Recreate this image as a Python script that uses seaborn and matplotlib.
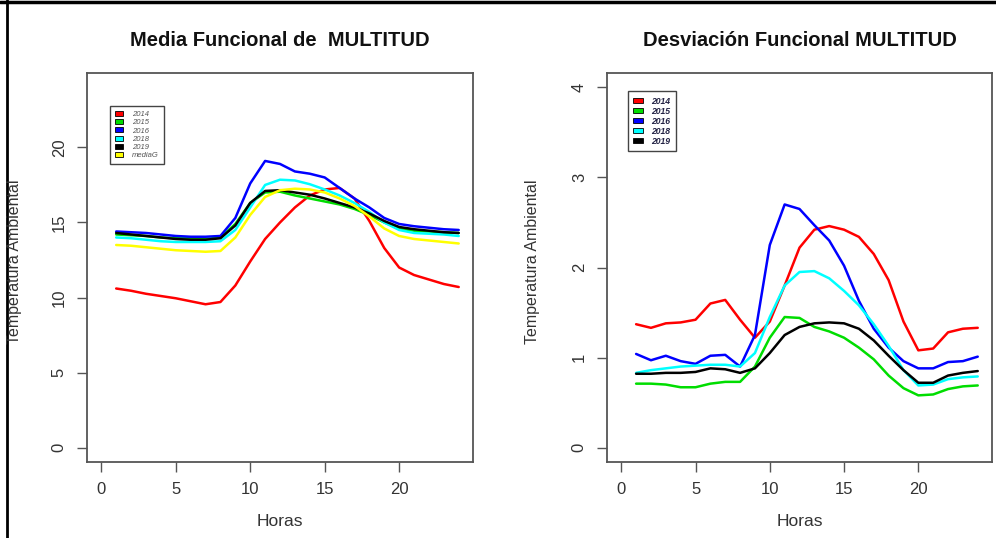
import numpy as np
import pandas as pd
import matplotlib
matplotlib.use("Agg")
import matplotlib.pyplot as plt
from matplotlib.patches import Patch
from matplotlib.lines import Line2D
import seaborn as sns

# Hours of the day
horas = list(range(1, 25))

# Functional mean of ambient temperature per year
media_2014 = [10.6, 10.45, 10.25, 10.1, 9.95, 9.75, 9.55, 9.7, 10.8, 12.4, 13.9, 15.0,
              16.0, 16.8, 17.2, 17.3, 16.6, 15.1, 13.3, 12.0, 11.5, 11.2, 10.9, 10.7]
media_2015 = [14.2, 14.15, 14.1, 14.0, 13.95, 13.95, 13.9, 14.0, 14.9, 16.3, 17.0, 17.05,
              16.8, 16.6, 16.4, 16.2, 15.9, 15.5, 15.0, 14.6, 14.45, 14.4, 14.35, 14.3]
media_2016 = [14.4, 14.35, 14.3, 14.2, 14.1, 14.05, 14.05, 14.1, 15.3, 17.6, 19.1, 18.9,
              18.4, 18.25, 18.0, 17.3, 16.6, 16.0, 15.3, 14.9, 14.75, 14.65, 14.55, 14.5]
media_2018 = [14.0, 13.95, 13.85, 13.75, 13.7, 13.7, 13.7, 13.75, 14.5, 16.0, 17.5, 17.85,
              17.8, 17.55, 17.2, 16.8, 16.3, 15.7, 15.0, 14.5, 14.3, 14.25, 14.2, 14.1]
media_2019 = [14.3, 14.2, 14.1, 14.0, 13.9, 13.85, 13.85, 13.95, 14.8, 16.3, 17.1, 17.15,
              17.0, 16.85, 16.6, 16.3, 16.0, 15.6, 15.1, 14.7, 14.55, 14.45, 14.35, 14.3]
media_G = [13.5, 13.45, 13.35, 13.25, 13.15, 13.1, 13.05, 13.1, 14.0, 15.5, 16.7, 17.15,
           17.25, 17.2, 17.0, 16.6, 16.1, 15.4, 14.6, 14.1, 13.9, 13.8, 13.7, 13.6]

# Functional standard deviation per year
desv_2014 = [1.37, 1.33, 1.38, 1.39, 1.42, 1.60, 1.64, 1.42, 1.22, 1.40, 1.80, 2.22,
             2.42, 2.46, 2.42, 2.34, 2.15, 1.86, 1.40, 1.08, 1.10, 1.28, 1.32, 1.33]
desv_2015 = [0.71, 0.71, 0.70, 0.67, 0.67, 0.71, 0.73, 0.73, 0.90, 1.22, 1.45, 1.44,
             1.34, 1.29, 1.22, 1.11, 0.98, 0.80, 0.66, 0.58, 0.59, 0.65, 0.68, 0.69]
desv_2016 = [1.04, 0.97, 1.02, 0.96, 0.93, 1.02, 1.03, 0.90, 1.25, 2.25, 2.70, 2.65,
             2.47, 2.30, 2.02, 1.63, 1.32, 1.11, 0.96, 0.88, 0.88, 0.95, 0.96, 1.01]
desv_2018 = [0.83, 0.86, 0.88, 0.90, 0.91, 0.92, 0.92, 0.90, 1.05, 1.45, 1.80, 1.95,
             1.96, 1.88, 1.74, 1.58, 1.37, 1.13, 0.86, 0.69, 0.70, 0.76, 0.78, 0.79]
desv_2019 = [0.82, 0.82, 0.83, 0.83, 0.84, 0.88, 0.87, 0.83, 0.88, 1.05, 1.25, 1.34,
             1.38, 1.39, 1.38, 1.32, 1.19, 1.02, 0.86, 0.72, 0.72, 0.80, 0.83, 0.85]

etiquetas_media = ["2014", "2015", "2016", "2018", "2019", "mediaG"]
etiquetas_desv = ["2014", "2015", "2016", "2018", "2019"]
colores = {"2014": "#ff0000", "2015": "#00dd00", "2016": "#0000ff",
           "2018": "#00ffff", "2019": "#000000", "mediaG": "#ffff00"}

serie_media = [media_2014, media_2015, media_2016, media_2018, media_2019, media_G]
serie_desv = [desv_2014, desv_2015, desv_2016, desv_2018, desv_2019]


def a_largo(etiquetas, series):
    filas = []
    for et, vals in zip(etiquetas, series):
        for h, v in zip(horas, vals):
            filas.append({"Horas": h, "valor": v, "serie": et})
    return pd.DataFrame(filas)


df_media = a_largo(etiquetas_media, serie_media)
df_desv = a_largo(etiquetas_desv, serie_desv)

sns.set_style("white")
plt.rcParams["font.family"] = ["Liberation Sans", "DejaVu Sans"]

fig = plt.figure(figsize=(9.96, 5.38), dpi=100)
ax1 = fig.add_axes([87 / 996, 76 / 538, 386 / 996, 389 / 538])
ax2 = fig.add_axes([607 / 996, 76 / 538, 385 / 996, 389 / 538])

sns.lineplot(data=df_media, x="Horas", y="valor", hue="serie", hue_order=etiquetas_media,
             palette=colores, linewidth=1.8, ax=ax1, legend=False, sort=True)
sns.lineplot(data=df_desv, x="Horas", y="valor", hue="serie", hue_order=etiquetas_desv,
             palette=colores, linewidth=1.8, ax=ax2, legend=False, sort=True)

tick_col = "#333333"
frame_col = "#555555"
for ax, ymax, yticks in [(ax1, 24, [0, 5, 10, 15, 20]), (ax2, 4, [0, 1, 2, 3, 4])]:
    ext = 0.04 * ymax
    ax.set_xlim(-0.96, 24.96)
    ax.set_ylim(-ext, ymax + ext)
    ax.set_xticks([0, 5, 10, 15, 20])
    ax.set_yticks(yticks)
    ax.set_xlabel("")
    ax.set_ylabel("")
    for s in ax.spines.values():
        s.set_color(frame_col)
        s.set_linewidth(1.3)
    ax.tick_params(axis="both", direction="out", length=7.5, width=1.0, color=frame_col,
                   labelsize=12, labelcolor=tick_col, pad=7, left=True, bottom=True)
    for lab in ax.get_yticklabels():
        lab.set_rotation(90)
        lab.set_va("center")

# Titles and axis labels
fig.text(280 / 996, 1 - 40 / 538, "Media Funcional de  MULTITUD", ha="center", va="center",
         fontsize=14.5, fontweight="bold", color="#111111")
fig.text(800 / 996, 1 - 40 / 538, "Desviación Funcional MULTITUD", ha="center", va="center",
         fontsize=14.5, fontweight="bold", color="#111111")
fig.text(280 / 996, 1 - 521 / 538, "Horas", ha="center", va="center", fontsize=12.5, color=tick_col)
fig.text(800 / 996, 1 - 521 / 538, "Horas", ha="center", va="center", fontsize=12.5, color=tick_col)
fig.text(15 / 996, 1 - 262 / 538, "Temperatura Ambiental", rotation=90, ha="center", va="center",
         fontsize=11.5, color=tick_col)
fig.text(532 / 996, 1 - 262 / 538, "Temperatura Ambiental", rotation=90, ha="center", va="center",
         fontsize=11.5, color=tick_col)

# Legends with filled boxes
h1 = [Patch(facecolor=colores[e], edgecolor="black", linewidth=0.6) for e in etiquetas_media]
leg1 = ax1.legend(h1, etiquetas_media, loc="upper left", bbox_to_anchor=(0.05, 0.925),
                  prop={"size": 5.5, "style": "italic"}, labelcolor="#555555",
                  handlelength=1.1, handleheight=0.6, handletextpad=1.1, labelspacing=0.15,
                  borderpad=0.65, fancybox=False, framealpha=1, edgecolor="#444444")
leg1.get_frame().set_linewidth(1.0)

h2 = [Patch(facecolor=colores[e], edgecolor="black", linewidth=0.6) for e in etiquetas_desv]
leg2 = ax2.legend(h2, etiquetas_desv, loc="upper left", bbox_to_anchor=(0.043, 0.965),
                  prop={"size": 6.2, "style": "italic", "weight": "bold"}, labelcolor="#222244",
                  handlelength=1.1, handleheight=0.6, handletextpad=1.0, labelspacing=0.12,
                  borderpad=0.65, fancybox=False, framealpha=1, edgecolor="#444444")
leg2.get_frame().set_linewidth(1.0)

# Outer frame lines along the top and left edges
fig.add_artist(Line2D([7 / 996, 7 / 996], [0, 1], color="black", linewidth=2.0,
                      transform=fig.transFigure))
fig.add_artist(Line2D([0, 1], [1 - 2 / 538, 1 - 2 / 538], color="black", linewidth=2.5,
                      transform=fig.transFigure))

fig.savefig("out.png", dpi=100)
